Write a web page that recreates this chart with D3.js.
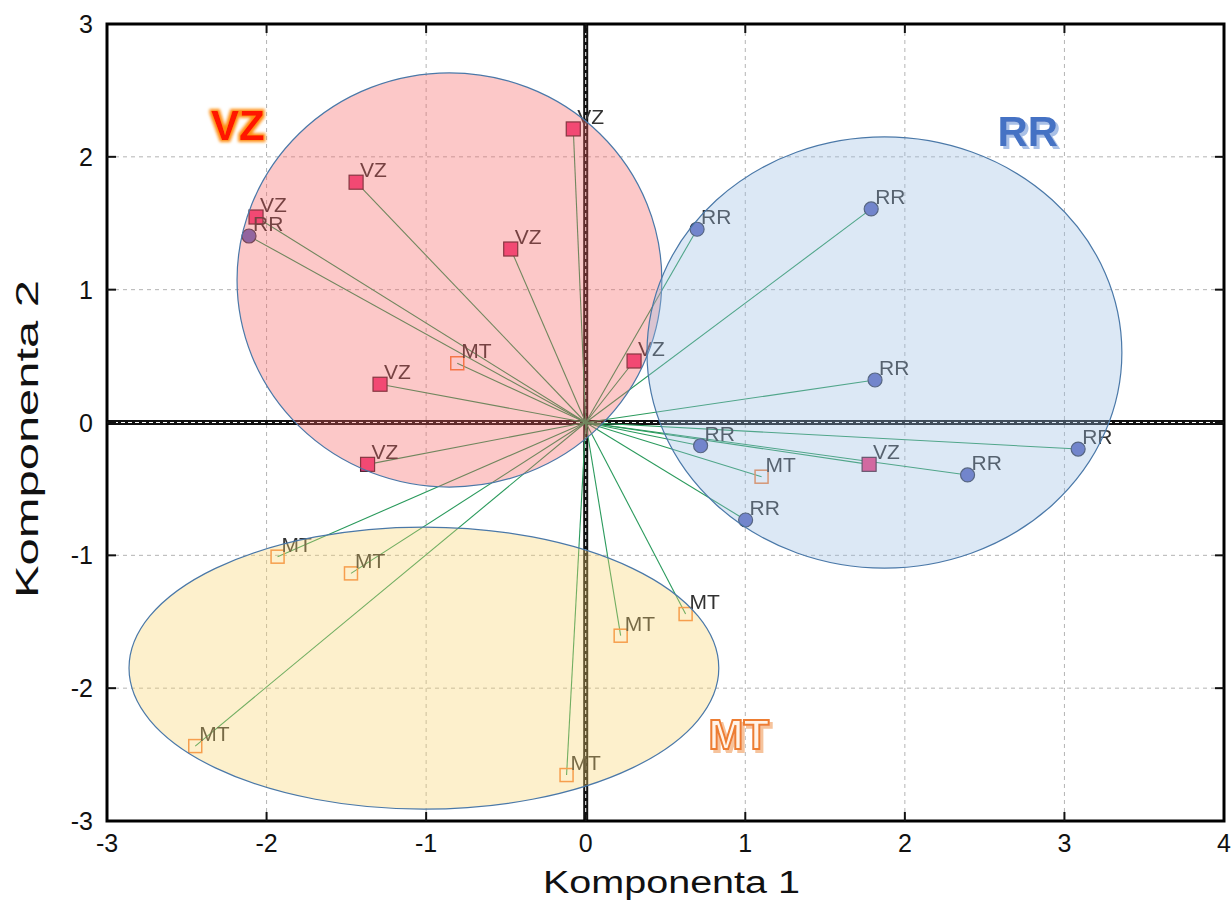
<!DOCTYPE html>
<html>
<head>
<meta charset="utf-8">
<script src="https://cdn.jsdelivr.net/npm/d3@7"></script>
<style>
  html, body { margin: 0; padding: 0; background: #fff; }
  svg { display: block; }
  text { font-family: "Liberation Sans", Arial, sans-serif; }
</style>
</head>
<body>
<svg id="chart" width="1232" height="902"></svg>
<script>
// ---- data ----
const xTicks = [-3, -2, -1, 0, 1, 2, 3, 4];
const yTicks = [-3, -2, -1, 0, 1, 2, 3];
const xTitle = "Komponenta 1";
const yTitle = "Komponenta 2";

const pointLabels = ["VZ","VZ","VZ","VZ","VZ","VZ","VZ","VZ",
                     "RR","RR","RR","RR","RR","RR","RR","RR",
                     "MT","MT","MT","MT","MT","MT","MT","MT"];
const pointX = [-2.066, -1.439, -0.078, -0.470, -1.289, -1.367, 0.303, 1.776,
                 0.698,  1.789,  1.813,  3.086,  2.393,  0.720, 1.002, -2.110,
                -0.805,  1.102, -1.931, -1.471, -2.447, -0.120, 0.219,  0.626];
const pointY = [ 1.547,  1.809,  2.210,  1.306,  0.288, -0.315, 0.463, -0.315,
                 1.455,  1.608,  0.320, -0.200, -0.395, -0.175, -0.734, 1.404,
                 0.446, -0.408, -1.010, -1.136, -2.436, -2.654, -1.605, -1.442];

const ellipseGroups = ["VZ", "RR", "MT"];
const ellipseCX = [-0.854, 1.872, -1.014];
const ellipseCY = [ 1.073, 0.527, -1.849];
const ellipseRX = [ 1.331, 1.488,  1.848];
const ellipseRY = [ 1.559, 1.623,  1.062];
const groupLabelX = [-2.18, 2.77, 0.96];
const groupLabelY = [ 2.13, 2.08, -2.46];

// ---- styles ----
const ellipseFill = {VZ: "rgb(246,98,98)", RR: "rgb(155,189,226)", MT: "rgb(249,212,109)"};

const svg = d3.select("#chart");
const pLeft = 107, pRight = 1224, pTop = 24, pBottom = 821;
const x = d3.scaleLinear().domain([-3, 4]).range([pLeft, pRight]);
const y = d3.scaleLinear().domain([-3, 3]).range([pBottom, pTop]);

const defs = svg.append("defs");
const soft = defs.append("filter").attr("id", "soft");
soft.append("feGaussianBlur").attr("stdDeviation", 0.35);

// glow filter (VZ)
const glow = defs.append("filter").attr("id", "glow").attr("x", "-30%").attr("y", "-30%").attr("width", "160%").attr("height", "160%");
glow.append("feMorphology").attr("in", "SourceAlpha").attr("operator", "dilate").attr("radius", 2).attr("result", "d");
glow.append("feGaussianBlur").attr("in", "d").attr("stdDeviation", 1.5).attr("result", "b");
glow.append("feFlood").attr("flood-color", "#ff8c10").attr("result", "c");
glow.append("feComposite").attr("in", "c").attr("in2", "b").attr("operator", "in").attr("result", "g");
const gm = glow.append("feMerge");
gm.append("feMergeNode").attr("in", "g");
gm.append("feMergeNode").attr("in", "SourceGraphic");

function shadowFilter(id, color) {
  const f = defs.append("filter").attr("id", id).attr("x", "-20%").attr("y", "-20%").attr("width", "140%").attr("height", "140%");
  f.append("feOffset").attr("in", "SourceAlpha").attr("dx", 2.5).attr("dy", 2.5).attr("result", "o");
  f.append("feFlood").attr("flood-color", color).attr("result", "c");
  f.append("feComposite").attr("in", "c").attr("in2", "o").attr("operator", "in").attr("result", "s");
  const m = f.append("feMerge");
  m.append("feMergeNode").attr("in", "s");
  m.append("feMergeNode").attr("in", "SourceGraphic");
}
shadowFilter("shadowRR", "#a9c0e6");
shadowFilter("shadowMT", "#f6c39c");

// grid
const grid = svg.append("g");
grid.selectAll("line.gx").data(xTicks.filter(d => d > -3 && d < 4)).join("line")
  .attr("x1", d => x(d)).attr("x2", d => x(d)).attr("y1", pTop).attr("y2", pBottom)
  .attr("stroke", "#b4b4b4").attr("stroke-width", 1).attr("stroke-dasharray", "4,4");
grid.selectAll("line.gy").data(yTicks.filter(d => d > -3 && d < 3)).join("line")
  .attr("y1", d => y(d)).attr("y2", d => y(d)).attr("x1", pLeft).attr("x2", pRight)
  .attr("stroke", "#b4b4b4").attr("stroke-width", 1).attr("stroke-dasharray", "4,4");

// zero lines
const zero = svg.append("g");
zero.append("line").attr("x1", x(0)).attr("x2", x(0)).attr("y1", pTop).attr("y2", pBottom)
  .attr("stroke", "#111").attr("stroke-width", 5);
zero.append("line").attr("x1", x(0)).attr("x2", x(0)).attr("y1", pTop).attr("y2", pBottom)
  .attr("stroke", "#fff").attr("stroke-width", 1).attr("stroke-dasharray", "4,3");
zero.append("line").attr("y1", y(0)).attr("y2", y(0)).attr("x1", pLeft).attr("x2", pRight)
  .attr("stroke", "#111").attr("stroke-width", 5);
zero.append("line").attr("y1", y(0)).attr("y2", y(0)).attr("x1", pLeft).attr("x2", pRight)
  .attr("stroke", "#fff").attr("stroke-width", 1).attr("stroke-dasharray", "4,3");

const idx = d3.range(pointLabels.length);

// rays from origin
svg.append("g").selectAll("line").data(idx).join("line")
  .attr("x1", x(0)).attr("y1", y(0))
  .attr("x2", i => x(pointX[i])).attr("y2", i => y(pointY[i]))
  .attr("stroke", "#2a9a5c").attr("stroke-width", 1.1);

// markers
const marks = svg.append("g");
idx.forEach(i => {
  const g = pointLabels[i], cx = x(pointX[i]), cy = y(pointY[i]);
  if (g === "RR") {
    marks.append("circle").attr("cx", cx).attr("cy", cy).attr("r", 7)
      .attr("fill", "rgb(92,104,192)").attr("stroke", "#333850").attr("stroke-width", 1.2);
  } else if (g === "VZ") {
    marks.append("rect").attr("x", cx - 7).attr("y", cy - 7).attr("width", 14).attr("height", 14)
      .attr("fill", "rgb(240,60,125)").attr("stroke", "#4a2030").attr("stroke-width", 1.2);
  } else {
    marks.append("rect").attr("x", cx - 6.5).attr("y", cy - 6.5).attr("width", 13).attr("height", 13)
      .attr("fill", "none").attr("stroke", "rgb(245,130,60)").attr("stroke-width", 1.5);
  }
});

// point labels
svg.append("g").selectAll("text").data(idx).join("text")
  .attr("x", i => x(pointX[i]) + 4).attr("y", i => y(pointY[i]) - 5)
  .attr("font-size", 21).attr("fill", "#333").attr("filter", "url(#soft)")
  .text(i => pointLabels[i]);

// ellipses (drawn over, semi-transparent)
svg.append("g").selectAll("ellipse").data(d3.range(ellipseGroups.length)).join("ellipse")
  .attr("cx", i => x(ellipseCX[i])).attr("cy", i => y(ellipseCY[i]))
  .attr("rx", i => x(ellipseCX[i] + ellipseRX[i]) - x(ellipseCX[i]))
  .attr("ry", i => y(ellipseCY[i]) - y(ellipseCY[i] + ellipseRY[i]))
  .attr("fill", i => ellipseFill[ellipseGroups[i]]).attr("fill-opacity", 0.35)
  .attr("stroke", "#4a78a8").attr("stroke-width", 1.2);

// group labels
const gl = svg.append("g").attr("font-weight", "bold").attr("font-size", 42).attr("text-anchor", "middle");
gl.append("text").attr("x", x(groupLabelX[0])).attr("y", y(groupLabelY[0]))
  .attr("fill", "#ff1800").attr("filter", "url(#glow)").text(ellipseGroups[0]);
gl.append("text").attr("x", x(groupLabelX[1])).attr("y", y(groupLabelY[1]))
  .attr("fill", "#4472c4").attr("filter", "url(#shadowRR)").text(ellipseGroups[1]);
gl.append("text").attr("x", x(groupLabelX[2])).attr("y", y(groupLabelY[2]))
  .attr("fill", "#fff3e8").attr("stroke", "#ed7d31").attr("stroke-width", 2)
  .attr("filter", "url(#shadowMT)").text(ellipseGroups[2]);

// frame
svg.append("rect").attr("x", pLeft).attr("y", pTop).attr("width", pRight - pLeft).attr("height", pBottom - pTop)
  .attr("fill", "none").attr("stroke", "#000").attr("stroke-width", 3);

// tick marks (inward, all sides)
const tk = svg.append("g").attr("stroke", "#111").attr("stroke-width", 2);
xTicks.filter(d => d > -3 && d < 4).forEach(d => {
  tk.append("line").attr("x1", x(d)).attr("x2", x(d)).attr("y1", pBottom).attr("y2", pBottom - 9);
  tk.append("line").attr("x1", x(d)).attr("x2", x(d)).attr("y1", pTop).attr("y2", pTop + 9);
});
yTicks.filter(d => d > -3 && d < 3).forEach(d => {
  tk.append("line").attr("y1", y(d)).attr("y2", y(d)).attr("x1", pLeft).attr("x2", pLeft + 9);
  tk.append("line").attr("y1", y(d)).attr("y2", y(d)).attr("x1", pRight).attr("x2", pRight - 9);
});

// tick labels
svg.append("g").selectAll("text").data(xTicks).join("text")
  .attr("x", d => x(d)).attr("y", 852).attr("text-anchor", "middle")
  .attr("font-size", 25).attr("fill", "#111").text(d => d);
svg.append("g").selectAll("text").data(yTicks).join("text")
  .attr("x", 93).attr("y", d => y(d) + 9).attr("text-anchor", "end")
  .attr("font-size", 25).attr("fill", "#111").text(d => d);

// axis titles
svg.append("text").attr("x", 543).attr("y", 893).attr("font-size", 31).attr("fill", "#111")
  .attr("textLength", 257).attr("lengthAdjust", "spacingAndGlyphs").text(xTitle);
svg.append("text").attr("transform", "translate(38,598) rotate(-90)").attr("font-size", 31).attr("fill", "#111")
  .attr("textLength", 318).attr("lengthAdjust", "spacingAndGlyphs").text(yTitle);
</script>
</body>
</html>
